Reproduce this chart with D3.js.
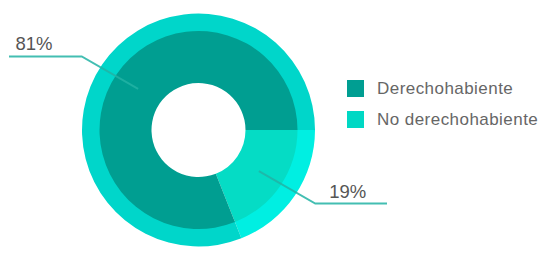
<!DOCTYPE html>
<html>
<head>
<meta charset="utf-8">
<script src="https://cdn.jsdelivr.net/npm/d3@7/dist/d3.min.js"></script>
<style>
  html, body { margin: 0; padding: 0; background: #fff; }
  svg { display: block; }
  text { font-family: "Liberation Sans", Arial, Helvetica, sans-serif; }
</style>
</head>
<body>
<svg id="chart" width="552" height="260"></svg>
<script>
// Data
const categories = ["No derechohabiente", "Derechohabiente"];
const values = [19, 81];
const labels = ["19%", "81%"];
const legendOrder = ["Derechohabiente", "No derechohabiente"];

const pieColors = { "Derechohabiente": "#009e91", "No derechohabiente": "#05dcc5" };
const ringColors = { "Derechohabiente": "#00d6ca", "No derechohabiente": "#00efe2" };
const legendColors = { "Derechohabiente": "#009e92", "No derechohabiente": "#00d8c4" };

const svg = d3.select("#chart");
const cx = 198.5, cy = 130;
const rInner = 47, rPie = 99, rRing = 116.5;

const data = categories.map((c, i) => ({ cat: c, value: values[i], label: labels[i] }));

const pie = d3.pie().value(d => d.value).sort(null)
  .startAngle(Math.PI / 2).endAngle(Math.PI / 2 + 2 * Math.PI);
const arcs = pie(data);

const g = svg.append("g").attr("transform", `translate(${cx},${cy})`);

const ringArc = d3.arc().innerRadius(rPie - 1).outerRadius(rRing);
const pieArc = d3.arc().innerRadius(rInner).outerRadius(rPie);

g.selectAll("path.ring").data(arcs).join("path")
  .attr("class", "ring")
  .attr("d", ringArc)
  .attr("fill", d => ringColors[d.data.cat]);

g.selectAll("path.slice").data(arcs).join("path")
  .attr("class", "slice")
  .attr("d", pieArc)
  .attr("fill", d => pieColors[d.data.cat]);

// Label lines
const lineColor = "#22b3a4";
const elbowR = 138;
const endX = 189.5;
arcs.forEach(d => {
  const c = pieArc.centroid(d);
  const mid = (d.startAngle + d.endAngle) / 2 - 0.035;
  const ex = Math.sin(mid) * elbowR, ey = -Math.cos(mid) * elbowR;
  const right = ex > 0;
  const hx = right ? endX - 1 : -endX;
  g.append("path")
    .attr("d", d3.line()([c, [ex, ey], [hx, ey]]))
    .attr("fill", "none")
    .attr("stroke", lineColor)
    .attr("stroke-width", 2)
    .attr("stroke-opacity", 0.85);
  g.append("text")
    .attr("x", right ? ex + 14 : hx + 6.5)
    .attr("y", ey - 6)
    .attr("font-size", 18.5)
    .attr("fill", "#555")
    .text(d.data.label);
});

// Legend
const legend = svg.append("g").attr("transform", "translate(347,80)");
const item = legend.selectAll("g").data(legendOrder).join("g")
  .attr("transform", (d, i) => `translate(0,${i * 31})`);
item.append("rect").attr("width", 17).attr("height", 17)
  .attr("fill", d => legendColors[d]);
item.append("text").attr("x", 30).attr("y", 13.5)
  .attr("font-size", 17).attr("letter-spacing", 0.45).attr("fill", "#666")
  .text(d => d);
</script>
</body>
</html>
